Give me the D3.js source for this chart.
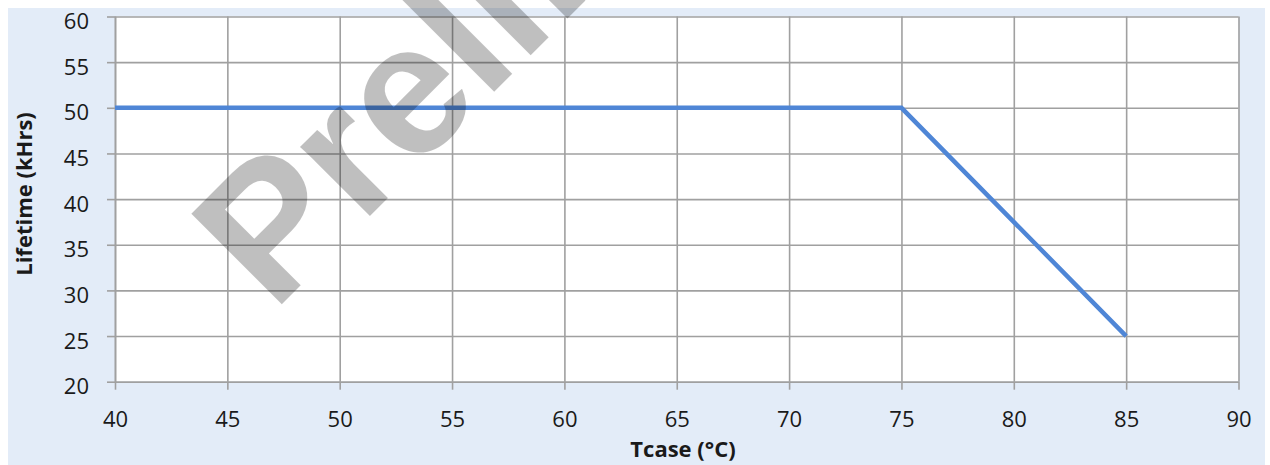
<!DOCTYPE html>
<html>
<head>
<meta charset="utf-8">
<script src="https://cdn.jsdelivr.net/npm/d3@7"></script>
<style>
  html, body { margin: 0; padding: 0; background: #ffffff; }
  svg { display: block; }
</style>
</head>
<body>
<script>
// ---- data ----
const tcase = [40, 75, 85];
const lifetime = [50, 50, 25];
const xTicks = [40, 45, 50, 55, 60, 65, 70, 75, 80, 85, 90];
const yTicks = [20, 25, 30, 35, 40, 45, 50, 55, 60];
const xTitle = "Tcase (°C)";
const yTitle = "Lifetime (kHrs)";
const watermark = "Preliminary";

const W = 1270, H = 465;
const plot = { left: 115, right: 1238.5, top: 16.5, bottom: 381.7 };
const gridColor = "#a0a0a0";
const lineColor = "#4f86d6";
const font = "'Open Sans', 'Noto Sans', sans-serif";

const svg = d3.select("body").append("svg").attr("width", W).attr("height", H);

// outer background
svg.append("rect").attr("x", 8).attr("y", 8).attr("width", W - 8 - 5).attr("height", H - 8)
  .attr("fill", "#e3ecf8");

const x = d3.scaleLinear().domain([d3.min(xTicks), d3.max(xTicks)]).range([plot.left, plot.right]);
const y = d3.scaleLinear().domain([d3.min(yTicks), d3.max(yTicks)]).range([plot.bottom, plot.top]);

// plot area
svg.append("rect").attr("x", plot.left).attr("y", plot.top)
  .attr("width", plot.right - plot.left).attr("height", plot.bottom - plot.top).attr("fill", "#ffffff");

// grid via axes
const xGrid = svg.append("g").attr("transform", `translate(0,${plot.bottom})`)
  .call(d3.axisBottom(x).tickValues(xTicks).tickSizeInner(-(plot.bottom - plot.top)).tickSizeOuter(0).tickFormat(""));
const yGrid = svg.append("g").attr("transform", `translate(${plot.left},0)`)
  .call(d3.axisLeft(y).tickValues(yTicks).tickSizeInner(-(plot.right - plot.left)).tickSizeOuter(0).tickFormat(""));
[xGrid, yGrid].forEach(g => {
  g.select(".domain").remove();
  g.selectAll("line").attr("stroke", gridColor).attr("stroke-width", 1.6);
});

// axes with outward ticks and labels
const xAxis = svg.append("g").attr("transform", `translate(0,${plot.bottom})`)
  .call(d3.axisBottom(x).tickValues(xTicks).tickSizeInner(8).tickSizeOuter(0).tickPadding(22));
const yAxis = svg.append("g").attr("transform", `translate(${plot.left},0)`)
  .call(d3.axisLeft(y).tickValues(yTicks).tickSizeInner(8).tickSizeOuter(0).tickPadding(18));
[xAxis, yAxis].forEach(g => {
  g.select(".domain").attr("stroke", gridColor).attr("stroke-width", 1.6);
  g.selectAll("line").attr("stroke", gridColor).attr("stroke-width", 1.6);
  g.selectAll("text").attr("fill", "#1a1a1a").style("font-family", font).style("font-size", "22px");
});
xAxis.selectAll("text").attr("dy", null).attr("y", 45).attr("dominant-baseline", "auto");
yAxis.selectAll("text").attr("dy", null).attr("y", 12);

// series line
const pts = tcase.map((t, i) => [t, lifetime[i]]);
svg.append("path").datum(pts)
  .attr("d", d3.line().x(d => x(d[0])).y(d => y(d[1])))
  .attr("fill", "none").attr("stroke", lineColor).attr("stroke-width", 4.5)
  .attr("stroke-linejoin", "miter");

// axis titles
svg.append("text").attr("x", 683).attr("y", 457)
  .attr("text-anchor", "middle").style("font-family", font).style("font-weight", "bold")
  .style("font-size", "22px").attr("fill", "#1a1a1a").text(xTitle);
svg.append("text").attr("transform", "translate(32,194) rotate(-90)")
  .attr("text-anchor", "middle").style("font-family", font).style("font-weight", "bold")
  .style("font-size", "22px").attr("fill", "#1a1a1a").text(yTitle);

// watermark
svg.append("text").attr("transform", "translate(273,313) rotate(-45)")
  .style("font-family", "'Liberation Sans', Arial, sans-serif").style("font-weight", "bold")
  .style("font-size", "186px").attr("fill", "#000000").attr("fill-opacity", 0.25)
  .text(watermark);
</script>
</body>
</html>
